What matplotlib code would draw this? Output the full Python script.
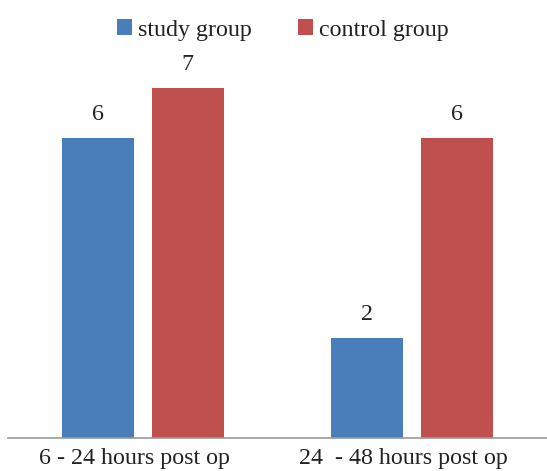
import matplotlib
matplotlib.use("Agg")
import matplotlib.pyplot as plt
import matplotlib.transforms as mtransforms
import numpy as np

categories = ["6 - 24 hours post op", "24  - 48 hours post op"]
series_names = ["study group", "control group"]
study = [6, 2]
control = [7, 6]

COLORS = ["#4A7EBB", "#C0504D"]
FS = 17.3

plt.rcParams["font.family"] = ["Liberation Serif", "DejaVu Serif"]

fig = plt.figure(figsize=(5.47, 4.71), dpi=100)
ax = fig.add_axes([8 / 547, 1 - 438 / 471, 539 / 547, 400 / 471])

x = np.arange(len(categories))
w = 0.267
gap = 0.0667
offs = (w + gap) / 2
for vals, off, col, name in [(study, -offs, COLORS[0], series_names[0]),
                             (control, offs, COLORS[1], series_names[1])]:
    bars = ax.bar(x + off, vals, width=w, color=col, label=name)
    for b, v in zip(bars, vals):
        ax.text(b.get_x() + b.get_width() / 2, v + 0.27, str(v),
                ha="center", va="bottom", fontsize=FS, color="#222222")

ax.set_xlim(-0.5, 1.5)
ax.set_ylim(0, 8)
ax.set_xticks(x)
ax.set_xticklabels(categories, fontsize=FS, color="#222222")
ax.tick_params(axis="x", length=0, pad=7.5)
# category labels sit a little left of the bar groups in the original
shift = mtransforms.ScaledTranslation(-8.5 / 100, 0, fig.dpi_scale_trans)
for lbl in ax.get_xticklabels():
    lbl.set_transform(lbl.get_transform() + shift)
ax.set_yticks([])
for s in ["top", "right", "left"]:
    ax.spines[s].set_visible(False)
ax.spines["bottom"].set_color("#999999")
ax.spines["bottom"].set_linewidth(1.2)

fig.legend(loc="upper center", bbox_to_anchor=(0.517, 1.005), ncol=2, frameon=False,
           fontsize=FS, handlelength=0.625, handleheight=0.625, handletextpad=0.25,
           columnspacing=1.95, labelcolor="#222222")

fig.savefig("out.png", dpi=100)
